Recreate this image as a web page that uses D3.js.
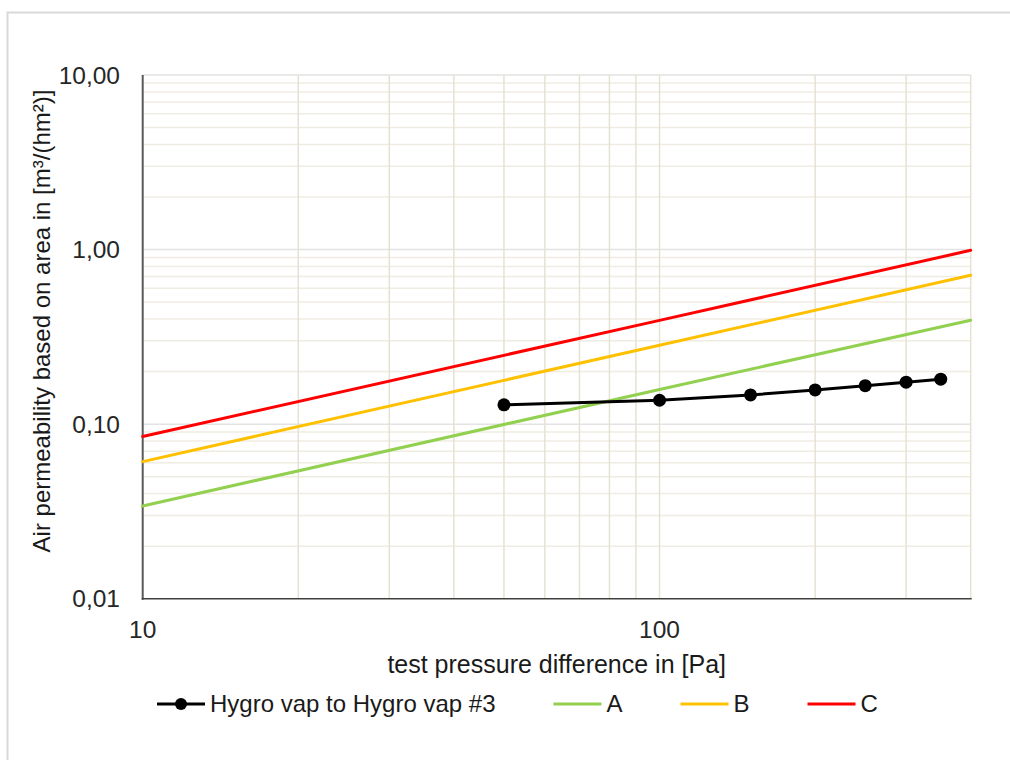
<!DOCTYPE html>
<html>
<head>
<meta charset="utf-8">
<script src="https://cdn.jsdelivr.net/npm/d3@7"></script>
<style>
  html, body { margin: 0; padding: 0; background: #fff; }
  svg { display: block; font-family: "Liberation Sans", Arial, sans-serif; }
</style>
</head>
<body>
<svg id="chart" width="1010" height="760"></svg>
<script>
// ---- data ----
const pressures = [50, 100, 150, 200, 250, 300, 350];
const measured = [0.129, 0.137, 0.147, 0.157, 0.166, 0.174, 0.181];
const classPressures = [10, 100, 400];
const classA = [0.034, 0.158, 0.394];
const classB = [0.061, 0.283, 0.713];
const classC = [0.085, 0.393, 0.99];
const seriesNames = ["Hygro vap to Hygro vap #3", "A", "B", "C"];
const seriesColors = ["#000000", "#92d050", "#ffc000", "#ff0000"];
const xTickLabels = [10, 100];
const yTickLabels = [0.01, 0.1, 1, 10];
const xTitle = "test pressure difference in [Pa]";
const yTitle = "Air permeability based on area in [m³/(hm²)]";

// ---- layout ----
const svg = d3.select("#chart");
const L = 142.7, R = 970.7, T = 75, B = 598.7;
const x = d3.scaleLog().domain([10, 400]).range([L, R]);
const y = d3.scaleLog().domain([0.01, 10]).range([B, T]);
const loc = d3.formatLocale({decimal: ",", thousands: ".", grouping: [3], currency: ["", "€"]});
const yFmt = loc.format(".2f");

// outer frame
svg.append("rect").attr("x", 7.5).attr("y", 12.5).attr("width", 1020).attr("height", 800)
  .attr("fill", "#fff").attr("stroke", "#d9d9d9").attr("stroke-width", 2);

// horizontal gridlines
const yGrid = y.ticks();
svg.append("g").selectAll("line").data(yGrid.filter(v => v > 0.0100001)).join("line")
  .attr("x1", L).attr("x2", R)
  .attr("y1", d => y(d)).attr("y2", d => y(d))
  .attr("stroke", d => yTickLabels.some(t => Math.abs(t - d) < 1e-9) ? "#e3e3e3" : "#efece2")
  .attr("stroke-width", 1.5);

// vertical gridlines
const xGrid = x.ticks();
svg.append("g").selectAll("line").data(xGrid.filter(v => v > 10.0001)).join("line")
  .attr("y1", T).attr("y2", B)
  .attr("x1", d => x(d)).attr("x2", d => x(d))
  .attr("stroke", "#e6e2d2").attr("stroke-width", 1.5);

// axes lines
svg.append("line").attr("x1", L).attr("x2", L).attr("y1", T).attr("y2", B + 1)
  .attr("stroke", "#595959").attr("stroke-width", 2);
svg.append("line").attr("x1", L - 1).attr("x2", R + 1).attr("y1", B).attr("y2", B)
  .attr("stroke", "#404040").attr("stroke-width", 1.6);

// tick labels
svg.append("g").selectAll("text").data(yTickLabels).join("text")
  .attr("x", 120).attr("y", d => y(d) + 8.5)
  .attr("text-anchor", "end").attr("font-size", 24.5).attr("fill", "#262626")
  .text(d => yFmt(d));
svg.append("g").selectAll("text").data(xTickLabels).join("text")
  .attr("x", d => x(d)).attr("y", 638)
  .attr("text-anchor", "middle").attr("font-size", 24.5).attr("fill", "#262626")
  .text(d => d);

// axis titles
svg.append("text").attr("x", (L + R) / 2).attr("y", 673)
  .attr("text-anchor", "middle").attr("font-size", 25).attr("fill", "#1a1a1a").text(xTitle);
svg.append("text").attr("transform", "translate(50,321) rotate(-90)")
  .attr("text-anchor", "middle").attr("font-size", 24).attr("fill", "#1a1a1a").text(yTitle);

// series lines
const line = d3.line().x(d => x(d[0])).y(d => y(d[1]));
const classSeries = [classA, classB, classC];
classSeries.forEach((vals, i) => {
  svg.append("path").datum(classPressures.map((p, j) => [p, vals[j]]))
    .attr("d", line).attr("fill", "none")
    .attr("stroke", seriesColors[i + 1]).attr("stroke-width", 3).attr("stroke-linecap", "round");
});
const mData = pressures.map((p, j) => [p, measured[j]]);
svg.append("path").datum(mData).attr("d", line).attr("fill", "none")
  .attr("stroke", "#000").attr("stroke-width", 3).attr("stroke-linejoin", "round");
svg.append("g").selectAll("circle").data(mData).join("circle")
  .attr("cx", d => x(d[0])).attr("cy", d => y(d[1])).attr("r", 6.5).attr("fill", "#000");

// legend
const lg = svg.append("g");
let lx = 157;
const ly = 704;
seriesNames.forEach((name, i) => {
  lg.append("line").attr("x1", lx).attr("x2", lx + 48).attr("y1", ly).attr("y2", ly)
    .attr("stroke", seriesColors[i]).attr("stroke-width", 3);
  if (i === 0) {
    lg.append("circle").attr("cx", lx + 24).attr("cy", ly).attr("r", 6).attr("fill", "#000");
  }
  const t = lg.append("text").attr("x", lx + 53).attr("y", ly + 8.3)
    .attr("font-size", 24).attr("fill", "#1a1a1a").text(name);
  const w = t.node().getComputedTextLength();
  lx = lx + 53 + w + 58;
});
</script>
</body>
</html>
